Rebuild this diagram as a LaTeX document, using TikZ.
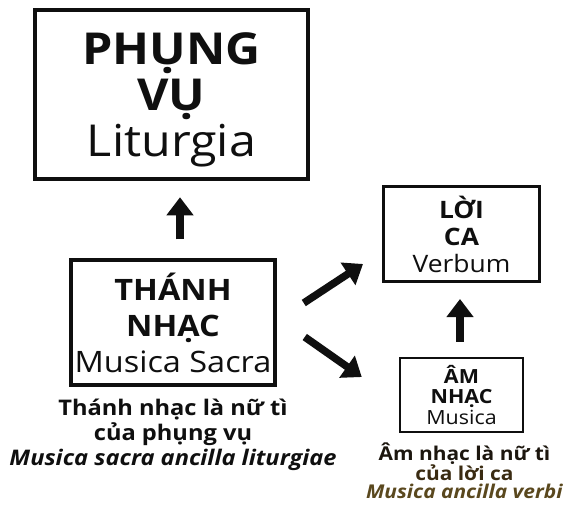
\documentclass[tikz,border=0pt]{standalone}
\usepackage{fontspec}
\setmainfont[FakeStretch=1.1]{Open Sans}
\usetikzlibrary{arrows.meta,positioning,calc}
\definecolor{ink}{RGB}{15,15,15}
\definecolor{capdark}{RGB}{28,22,14}
\definecolor{capmid}{RGB}{58,43,18}
\definecolor{caplight}{RGB}{90,72,30}
\tikzset{
    frame/.style={
        rectangle,
        draw=ink,
        align=center,
        text=ink,
        inner sep=0pt
    },
    liturgybox/.style={
        frame,
        line width=4.5pt,
        minimum width=273pt,
        minimum height=169pt,
        text depth=0pt,
        font=\fontsize{44}{46}\selectfont
    },
    sacredbox/.style={
        frame,
        line width=3.5pt,
        minimum width=204pt,
        minimum height=125pt,
        font=\fontsize{29.5}{36}\selectfont
    },
    verbumbox/.style={
        frame,
        line width=3pt,
        minimum width=156pt,
        minimum height=95pt,
        font=\fontsize{24}{27}\selectfont
    },
    musicabox/.style={
        frame,
        line width=2.5pt,
        minimum width=123pt,
        minimum height=74pt,
        font=\fontsize{19.5}{20.5}\selectfont
    },
    push/.style={
        -{Triangle[length=18pt,width=26pt]},
        draw=ink,
        line width=7.5pt
    },
    motto/.style={
        align=center,
        text=ink,
        inner sep=0pt
    }
}

\begin{document}
\begin{tikzpicture}[x=1pt, y=-1pt]
\useasboundingbox[fill=white] (0,0) rectangle (567,505);

% Boxes
\node[liturgybox] (liturgy) at (171.5, 94.5) {\textbf{PHỤNG}\\\textbf{VỤ}\\Liturgia};
\node[sacredbox] (sacred) at (173, 322.5) {\textbf{THÁNH}\\\textbf{NHẠC}\\Musica Sacra};
\node[verbumbox] (verbum) at (461.5, 234) {\textbf{LỜI}\\\textbf{CA}\\Verbum};
\node[musicabox] (musica) at (461.5, 395) {\textbf{ÂM}\\\textbf{NHẠC}\\Musica};

% Captions
\node[motto, anchor=north, font=\fontsize{21.5}{25}\selectfont, below=12pt of sacred]
    (sacredmotto) {\textbf{Thánh nhạc là nữ tì}\\\textbf{của phụng vụ}\\\textbf{\textit{Musica sacra ancilla liturgiae}}};
\node[motto, anchor=north, font=\fontsize{19}{18}\selectfont, below=9pt of musica, xshift=3pt]
    (musicamotto) {\textcolor{capdark}{\textbf{Âm nhạc là nữ tì}}\\\textcolor{capmid}{\textbf{của lời ca}}\\\textcolor{caplight}{\textbf{\textit{Musica ancilla verbi}}}};

% Arrows
\draw[push] ([xshift=7pt, yshift=19pt]sacred.north) -- ([xshift=8.5pt, yshift=-16pt]liturgy.south);
\draw[push] ([shift={(27,-19.5)}]sacred.east) -- ([shift={(-19,30)}]verbum.west);
\draw[push] ([shift={(28,14.5)}]sacred.east) -- ([shift={(-37,-18)}]musica.west);
\draw[push] ([xshift=-1.5pt, yshift=15pt]musica.north) -- ([xshift=-1.5pt, yshift=-16pt]verbum.south);
\end{tikzpicture}
\end{document}
